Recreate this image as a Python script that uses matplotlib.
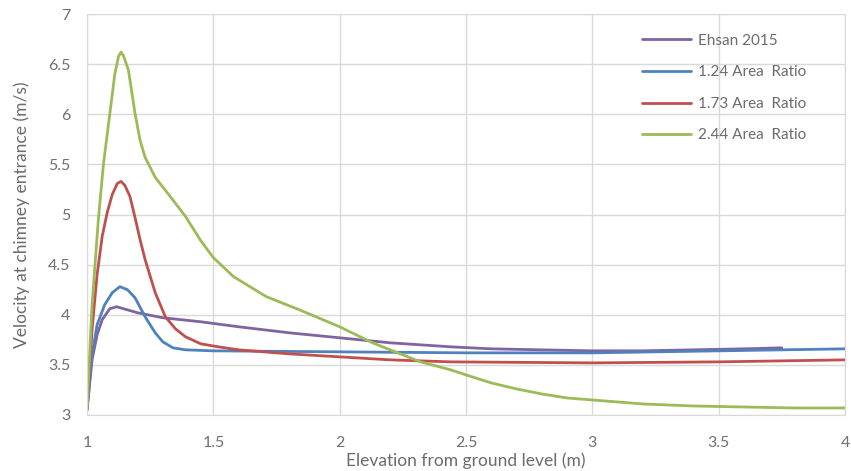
import matplotlib
matplotlib.use("Agg")
import matplotlib.pyplot as plt

# data
x_ehsan = [1.0, 1.02, 1.04, 1.06, 1.09, 1.117, 1.2, 1.3, 1.45, 1.6, 1.8, 2.0, 2.2, 2.44, 2.6, 2.8, 3.0, 3.2, 3.4, 3.6, 3.75]
y_ehsan = [3.05, 3.55, 3.8, 3.95, 4.06, 4.08, 4.02, 3.97, 3.93, 3.88, 3.82, 3.77, 3.72, 3.68, 3.66, 3.65, 3.64, 3.64, 3.65, 3.66, 3.67]

x_124 = [1.0, 1.02, 1.04, 1.07, 1.1, 1.13, 1.16, 1.19, 1.23, 1.27, 1.3, 1.34, 1.39, 1.5, 2.0, 2.5, 3.0, 3.5, 4.0]
y_124 = [3.05, 3.6, 3.9, 4.1, 4.22, 4.28, 4.25, 4.17, 3.98, 3.82, 3.73, 3.67, 3.65, 3.64, 3.63, 3.62, 3.62, 3.64, 3.66]

x_173 = [1.0, 1.02, 1.04, 1.06, 1.08, 1.1, 1.12, 1.135, 1.15, 1.17, 1.19, 1.21, 1.23, 1.27, 1.31, 1.35, 1.39, 1.45, 1.52, 1.6, 1.8, 2.0, 2.2, 2.44, 3.0, 3.5, 4.0]
y_173 = [3.05, 3.85, 4.4, 4.78, 5.02, 5.2, 5.31, 5.33, 5.29, 5.18, 4.97, 4.75, 4.55, 4.22, 3.98, 3.86, 3.78, 3.71, 3.68, 3.65, 3.61, 3.58, 3.55, 3.53, 3.52, 3.53, 3.55]

x_244 = [1.0, 1.02, 1.045, 1.065, 1.09, 1.11, 1.125, 1.135, 1.145, 1.164, 1.19, 1.21, 1.23, 1.27, 1.32, 1.39, 1.45, 1.5, 1.58, 1.71, 1.84, 2.0, 2.13, 2.32, 2.44, 2.5, 2.6, 2.7, 2.8, 2.9, 3.0, 3.2, 3.4, 3.6, 3.8, 4.0]
y_244 = [3.05, 4.1, 4.95, 5.5, 6.0, 6.4, 6.58, 6.62, 6.58, 6.44, 6.01, 5.74, 5.57, 5.37, 5.21, 4.98, 4.74, 4.57, 4.38, 4.18, 4.05, 3.88, 3.72, 3.53, 3.45, 3.40, 3.32, 3.26, 3.21, 3.17, 3.15, 3.11, 3.09, 3.08, 3.07, 3.07]

labels = ["Ehsan 2015", "1.24 Area  Ratio", "1.73 Area  Ratio", "2.44 Area  Ratio"]
colors = ["#8064A2", "#4F81BD", "#C0504D", "#9BBB59"]

plt.rcParams['font.family'] = ['Lato', 'DejaVu Sans']

fig = plt.figure(figsize=(8.51, 4.71), dpi=100)
ax = fig.add_axes([87/851, 1-415/471, (845-87)/851, (415-14)/471])

series = [(x_ehsan, y_ehsan), (x_124, y_124), (x_173, y_173), (x_244, y_244)]
for (xs, ys), lab, col in zip(series, labels, colors):
    ax.plot(xs, ys, color=col, linewidth=2.0, label=lab,
            solid_joinstyle='round', solid_capstyle='round')

ax.set_xlim(1, 4)
ax.set_ylim(3, 7)
ax.set_xticks([1, 1.5, 2, 2.5, 3, 3.5, 4])
ax.set_xticklabels(["1", "1.5", "2", "2.5", "3", "3.5", "4"])
ax.set_yticks([3, 3.5, 4, 4.5, 5, 5.5, 6, 6.5, 7])
ax.set_yticklabels(["3", "3.5", "4", "4.5", "5", "5.5", "6", "6.5", "7"])
ax.grid(True, color='#d9d9d9', linewidth=1)
ax.set_axisbelow(True)
for s in ax.spines.values():
    s.set_color('#d9d9d9')
ax.tick_params(length=0, labelsize=11.5, colors='#707070')
ax.tick_params(axis='x', pad=15)
ax.tick_params(axis='y', pad=12)

fig.text(466/851, 1-461/471, "Elevation from ground level (m)", ha='center', va='center',
         fontsize=12.5, color='#6b6b6b')
fig.text(22/851, 1-215/471, "Velocity at chimney entrance (m/s)", ha='center', va='center',
         rotation=90, fontsize=12.5, color='#6b6b6b')

leg = ax.legend(loc='upper left', bbox_to_anchor=(628/851, 1-20/471), bbox_transform=fig.transFigure,
                frameon=False, fontsize=11, handlelength=3.2, handletextpad=0.5, labelspacing=1.15)
for t in leg.get_texts():
    t.set_color('#6b6b6b')

plt.savefig("out.png", dpi=100)
